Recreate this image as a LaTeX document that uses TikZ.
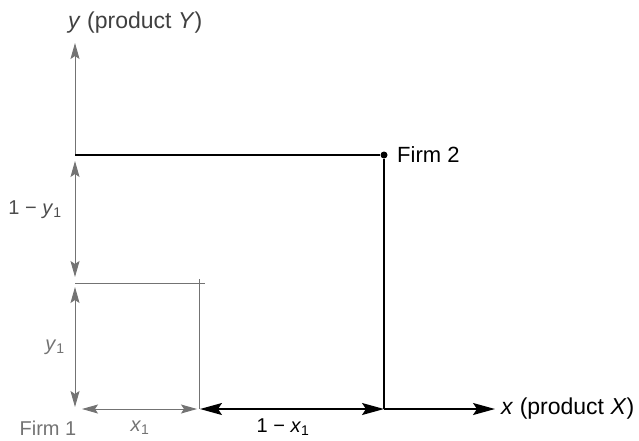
\documentclass[tikz,border=0pt]{standalone}
\usepackage{fontspec}
\setmainfont{Liberation Sans}
\usetikzlibrary{arrows.meta}
\begin{document}
\begin{tikzpicture}[x=1pt,y=-1pt,
  faint/.style={draw=black!55, line width=0.9pt},
  strong/.style={draw=black, line width=1.6pt},
  ftip/.tip={Stealth[length=16pt,width=9pt,inset=3pt,fill=black!55]},
  stip/.tip={Stealth[length=22pt,width=12pt,inset=4pt]},
  lbl/.style={font=\fontsize{20}{24}\selectfont, inner sep=0pt},
  biglbl/.style={font=\fontsize{23}{27}\selectfont, inner sep=0pt},
  flbl/.style={lbl, text=black!55},
  dot/.style={circle, fill=black, inner sep=0pt, minimum size=7pt}]
\useasboundingbox (0,0) rectangle (639,440);
% points
\coordinate (O) at (75,409);
\coordinate (Ytop) at (75,43);
\coordinate (Y1) at (75,283);
\coordinate (Y2) at (75,155);
\coordinate (X1) at (199,409);
\coordinate (X2) at (384,409);
\coordinate (Xend) at (495,409);
\coordinate (P1) at (199,283);
\node[dot] (F2) at (384,155) {};
% y axis (faint)
\draw[faint, -ftip] (Y2) -- (Ytop);
\draw[faint, ftip-ftip, shorten <=2pt, shorten >=4pt] (O) -- (Y1);
\draw[faint, ftip-ftip, shorten <=6pt, shorten >=6pt] (Y1) -- (Y2);
% small rectangle
\draw[faint] (Y1) -- (P1) -- (X1);
\draw[faint] ([xshift=-4pt]P1) -- ([xshift=6pt]P1);
\draw[faint] ([yshift=-5pt]P1) -- ([yshift=4pt]P1);
% x axis first segment (faint)
\draw[faint, ftip-ftip, shorten <=7pt, shorten >=2pt] (O) -- (X1);
% strong lines
\draw[draw=black, line width=1.3pt] (Y2) -- (F2);
\draw[strong] (F2) -- (X2);
\draw[strong, stip-stip, shorten <=1pt] (X1) -- (X2);
\draw[strong, -stip] (X2) -- (Xend);
% labels
\node[biglbl, text=black!75, anchor=west] (ylab) at (68,23) {\textit{y} (product \textit{Y})};
\node[lbl, font=\fontsize{22}{26}\selectfont, anchor=west] (f2lab) at (397,155) {Firm 2};
\node[biglbl, anchor=west] (xlab) at (501,409) {\textit{x} (product \textit{X})};
\node[lbl] (dx2) at (283,427) {1 − \textit{x}\textsubscript{1}};
\node[flbl] (f1lab) at (48,428) {Firm 1};
\node[flbl] (dx1) at (140,428) {\textit{x}\textsubscript{1}};
\node[flbl] (dy1) at (55,347) {\textit{y}\textsubscript{1}};
\node[flbl, text=black!70] (dy2) at (35,210) {1 − \textit{y}\textsubscript{1}};
\end{tikzpicture}
\end{document}
